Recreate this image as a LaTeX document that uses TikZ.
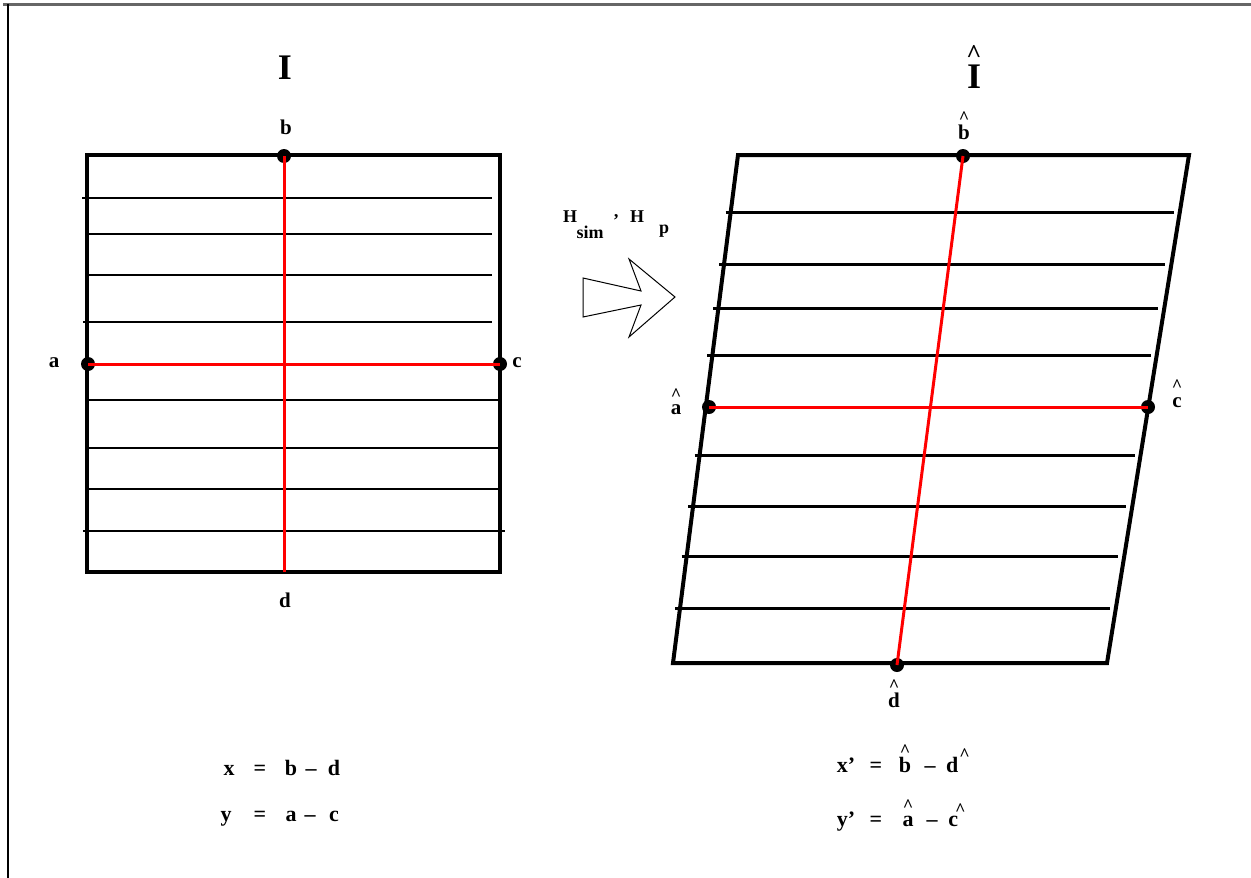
\documentclass[tikz,border=0pt]{standalone}
\usepackage{fontspec}
\setmainfont{Liberation Serif}
\usetikzlibrary{calc}
\newcommand\hatglyph[1][18]{{\fontsize{#1}{#1}\selectfont\raisebox{-0.40em}[0.26em][0pt]{\textasciicircum}}}
\newcommand\hatted[2]{\shortstack{\hatglyph\\[#1]#2}}
\tikzset{
  frameline/.style={line width=4pt, line join=miter},
  gridline/.style={line width=2pt},
  gridlinethick/.style={line width=3pt},
  redline/.style={red, line width=3pt},
  dotnode/.style={circle, fill=black, inner sep=0pt, minimum size=14pt},
  lbl/.style={font=\fontsize{21}{24}\selectfont\bfseries, inner sep=0pt},
  blbl/.style={font=\fontsize{21}{24}\selectfont\bfseries, inner sep=0pt, anchor=base},
  eq/.style={font=\fontsize{22}{24}\selectfont\bfseries, inner sep=0pt, anchor=base},
  hlbl/.style={font=\fontsize{18}{20}\selectfont\bfseries, inner sep=0pt},
  biglbl/.style={font=\fontsize{36}{40}\selectfont\bfseries, inner sep=0pt},
}
\begin{document}
\begin{tikzpicture}[x=1pt, y=-1pt]
\useasboundingbox (0,0) rectangle (1251,878);
% page border
\draw[gray!80!black, line width=2.5pt] (3,4.5) -- (1251,4.5);
\draw[line width=2pt] (7.5,4) -- (7.5,878);

% ---------- left square ----------
\coordinate (LTL) at (87,155);
\coordinate (LTR) at (500,155);
\coordinate (LBR) at (500,572);
\coordinate (LBL) at (87,572);
\draw[gridline] (82,198) -- (492,198);
\draw[gridline] (87,234) -- (492,234);
\draw[gridline] (87,275) -- (492,275);
\draw[gridline] (83,322) -- (492,322);
\draw[gridline] (87,400) -- (500,400);
\draw[gridline] (87,448) -- (500,448);
\draw[gridline] (87,489) -- (500,489);
\draw[gridline] (83,531) -- (505,531);
\draw[frameline] (LTL) -- (LTR) -- (LBR) -- (LBL) -- cycle;
\node[dotnode] (a) at (88,364) {};
\node[dotnode] (c) at (500,364) {};
\node[dotnode] (b) at (284,156) {};
\coordinate (d) at (284,572);
\draw[redline] (b.center) -- (d);
\draw[redline] (a.center) -- (c.center);
\node[lbl] (la) at (54,363) {a};
\node[lbl] (lc) at (517,363) {c};
\node[lbl] (lb) at (286,127) {b};
\node[lbl] (ld) at (285,600) {d};
\node[biglbl] (I) at (285,68) {I};

% ---------- arrow ----------
\draw[line width=1pt, line join=miter] (583,278) -- (641,291) -- (629,259) -- (675,297)
  -- (629,337) -- (641,305) -- (583,317) -- cycle;
\node[hlbl] (H1) at (570,217) {H};
\node[hlbl] (sim) at (590,232) {sim};
\node[hlbl] (comma) at (616,221) {'};
\node[hlbl] (H2) at (637,217) {H};
\node[hlbl] (p) at (664,231) {p};

% ---------- right parallelogram ----------
\coordinate (RTL) at (738,155);
\coordinate (RTR) at (1189,155);
\coordinate (RBR) at (1107,663);
\coordinate (RBL) at (673,663);
\foreach \f in {0.114,0.215,0.303,0.394,0.591,0.691,0.791,0.892}
  \draw[gridlinethick] ($(RTL)!\f!(RBL)+(-5,0)$) -- ($(RTR)!\f!(RBR)+(-6,0)$);
\draw[frameline] (RTL) -- (RTR) -- (RBR) -- (RBL) -- cycle;
\node[dotnode] (ah) at (709,407) {};
\node[dotnode] (ch) at (1148,407) {};
\node[dotnode] (bh) at (963,156) {};
\node[dotnode] (dh) at (897,665) {};
\draw[redline] (bh.center) -- (dh.center);
\draw[redline] (ah.center) -- (ch.center);
\node[blbl] (lah) at (676,414) {\hatted{8pt}{a}};
\node[blbl] (lch) at (1177,407) {\hatted{10pt}{c}};
\node[blbl] (lbh) at (964,139) {\hatted{5pt}{b}};
\node[blbl] (ldh) at (894,707) {\hatted{5pt}{d}};
\node[biglbl, anchor=base] (Ih) at (974,88) {\shortstack{\hatglyph[26]\\[9pt]I}};

% ---------- equations ----------
\node[eq] at (229,775) {x};
\node[eq] at (260,775) {=};
\node[eq] at (291,775) {b};
\node[eq] at (311,775) {--};
\node[eq] at (334,775) {d};
\node[eq] at (226,821) {y};
\node[eq] at (260,821) {=};
\node[eq] at (291,821) {a};
\node[eq] at (310,821) {--};
\node[eq] at (334,821) {c};

\node[eq] at (846,772) {x'};
\node[eq] at (876,772) {=};
\node[eq] at (905,772) {\hatted{4pt}{b}};
\node[eq] at (930,772) {--};
\node[eq] at (958,772) {d\hspace{1pt}\raisebox{19pt}{\hatglyph}};
\node[eq] at (846,826) {y'};
\node[eq] at (876,826) {=};
\node[eq] at (908,826) {\hatted{8pt}{a}};
\node[eq] at (932,826) {--};
\node[eq] at (957,826) {c\hspace{-3pt}\raisebox{18pt}{\hatglyph}};
\end{tikzpicture}
\end{document}
